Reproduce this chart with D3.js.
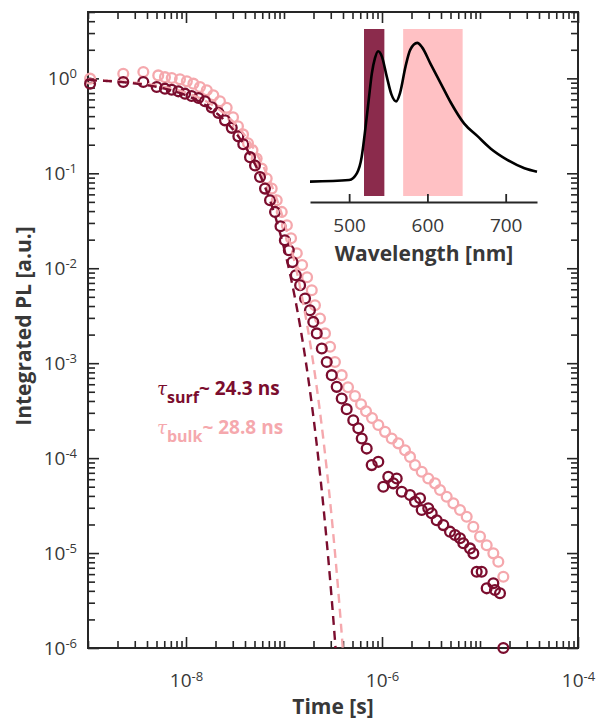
<!DOCTYPE html>
<html>
<head>
<meta charset="utf-8">
<script src="https://cdn.jsdelivr.net/npm/d3@7"></script>
<style>
  body { margin: 0; background: #fff; }
  svg { display: block; }
  text { font-family: "Open Sans", "Noto Sans", sans-serif; }
</style>
</head>
<body>
<svg id="chart" width="597" height="720"></svg>
<script>
// Time-resolved PL decays (time in ns, integrated PL normalised)
const timeBulk = [1.05,2.29,3.67,5.21,6.10,7.15,8.68,10.2,11.9,13.9,16.3,19.0,22.2,26.0,30.2,33.9,38.2,42.9,47.7,52.6,59.2,66.6,74.9,84.3,94.8,107,118,135,153,172,192,207,233,262,295,331,388,450,530,611,687,791,917,1074,1256,1467,1718,1932,2172,2542,2966,3474,3908,4571,5343,6252,7314,8547,10000,11700,13680,15380,17300];
const plBulk = [0.993,1.12,1.165,1.075,1.03,1.007,0.976,0.930,0.880,0.810,0.748,0.662,0.573,0.489,0.389,0.313,0.257,0.207,0.175,0.143,0.112,0.0879,0.069,0.052,0.0392,0.0284,0.0207,0.0144,0.0108,0.00804,0.00587,0.00408,0.00296,0.00206,0.00149,0.00103,7.48e-4,5.58e-4,4.50e-4,3.70e-4,3.12e-4,2.64e-4,2.23e-4,1.89e-4,1.61e-4,1.43e-4,1.21e-4,1.03e-4,8.44e-5,7.18e-5,6.11e-5,5.42e-5,4.61e-5,3.92e-5,3.34e-5,2.84e-5,2.41e-5,1.89e-5,1.49e-5,1.21e-5,9.93e-6,8.09e-6,5.63e-6];

const timeSurf = [1.05,2.29,3.67,5.02,6.10,7.15,8.35,9.77,11.4,13.4,15.6,18.3,21.4,25.0,29.3,34.2,38.4,45.0,50.6,56.9,64.0,72.0,81.0,92.1,102,112,122,132,146,164,184,199,216,243,273,307,345,388,436,509,573,621,698,785,917,1031,1159,1304,1413,1589,1932,2172,2443,2542,2966,3214,3614,4224,4943,5559,6252,6755,7907,8547,9250,10400,11700,13680,14220,16000,17300];
const plSurf = [0.880,0.914,0.914,0.810,0.779,0.760,0.730,0.690,0.651,0.620,0.573,0.495,0.433,0.361,0.301,0.245,0.202,0.148,0.121,0.0914,0.069,0.052,0.0392,0.0277,0.0197,0.0155,0.0116,0.00844,0.00662,0.0048,0.00361,0.00272,0.00206,0.00143,0.00103,7.48e-4,5.63e-4,4.25e-4,3.28e-4,2.51e-4,2.06e-4,1.61e-4,1.26e-4,8.44e-5,9.14e-5,4.99e-5,6.35e-5,5.42e-5,6.11e-5,4.42e-5,4.08e-5,3.47e-5,3.77e-5,2.84e-5,2.96e-5,2.62e-5,2.22e-5,1.97e-5,1.68e-5,1.55e-5,1.43e-5,1.27e-5,1.12e-5,9.93e-6,6.35e-6,6.35e-6,4.25e-6,4.80e-6,4.08e-6,3.77e-6,1e-6];

// Single-exponential fits (lifetimes in ns)
const tauSurf = 24.3;
const tauBulk = 28.8;
const fitAmplitude = [1.0, 1.0];

// Axis ticks
const xLabelExponents = [-8, -6, -4];
const yLabelExponents = [0, -1, -2, -3, -4, -5, -6];

// PL spectrum for the inset
const wavelength = [450,500,510,516,520,525,529,533,537,542,548,554,560,565,572,578,587,593,604,617,630,647,664,681,702,724,740];
const spectrum = [0.003,0.015,0.065,0.18,0.35,0.59,0.78,0.89,0.94,0.90,0.76,0.63,0.58,0.64,0.83,0.95,1.0,0.97,0.85,0.71,0.57,0.42,0.33,0.24,0.16,0.10,0.075];
const bandSurf = [519, 545];
const bandBulk = [569, 645];
const waveTicks = [500, 600, 700];

const colSurf = "#7b0d2e";
const colBulk = "#f5a8ad";
const axisCol = "#262626";
const labelCol = "#383838";

const svg = d3.select("#chart");

const L = 88, R = 578, T = 12, B = 648;
const x = d3.scaleLog().domain([1e-9, 1e-4]).range([L, R]);
const y = d3.scaleLog().domain([1e-6, 5]).range([B, T]);

// log tick values: every integer multiple of each decade
function logTicks(lo, hi) {
  const out = [];
  for (let d = lo; d < hi; d++) {
    for (let k = 1; k <= 9; k++) out.push(k * Math.pow(10, d));
  }
  out.push(Math.pow(10, hi));
  return out;
}
const xAll = logTicks(-9, -4);
const xMajor = xLabelExponents.map(e => Math.pow(10, e));
const xMinor = xAll.filter(v => !xMajor.some(m => Math.abs(m - v) / m < 1e-6));
const yAll = logTicks(-6, 0).concat([2, 3, 4, 5]);
const yMajor = yLabelExponents.map(e => Math.pow(10, e));
const yMinor = yAll.filter(v => !yMajor.some(m => Math.abs(m - v) / m < 1e-6));

const minorLen = 7, majorLen = 11;

function drawAxis(axisFn, scale, transform, vals, len, labels) {
  const g = svg.append("g")
    .attr("transform", transform)
    .attr("color", axisCol)
    .call(axisFn(scale).tickValues(vals).tickSize(-len).tickSizeOuter(0)
      .tickPadding(labels ? labels.pad : 0)
      .tickFormat(labels ? (() => "10") : () => ""));
  g.select(".domain").remove();
  g.selectAll(".tick line").attr("stroke-width", 1.6);
  if (labels) {
    g.selectAll(".tick text")
      .attr("font-size", 19)
      .attr("fill", labelCol)
      .each(function(d) {
        const e = Math.round(Math.log10(d));
        d3.select(this).append("tspan")
          .attr("dy", "-0.5em")
          .attr("font-size", 13)
          .text(e);
      });
  }
  return g;
}

// Bottom / top / left / right ticks, all pointing inward
drawAxis(d3.axisBottom, x, `translate(0,${B})`, xMinor, minorLen);
drawAxis(d3.axisBottom, x, `translate(0,${B})`, xMajor, majorLen, { pad: 26 });
drawAxis(d3.axisTop, x, `translate(0,${T})`, xMinor, minorLen);
drawAxis(d3.axisTop, x, `translate(0,${T})`, xMajor, majorLen);
drawAxis(d3.axisLeft, y, `translate(${L},0)`, yMinor, minorLen);
drawAxis(d3.axisLeft, y, `translate(${L},0)`, yMajor, majorLen, { pad: 11 });
drawAxis(d3.axisRight, y, `translate(${R},0)`, yMinor, minorLen);
drawAxis(d3.axisRight, y, `translate(${R},0)`, yMajor, majorLen);

// Plot frame
svg.append("rect")
  .attr("x", L).attr("y", T).attr("width", R - L).attr("height", B - T)
  .attr("fill", "none").attr("stroke", axisCol).attr("stroke-width", 2);

// Axis titles
svg.append("text")
  .attr("x", 333).attr("y", 714)
  .attr("text-anchor", "middle").attr("font-size", 21).attr("font-weight", "bold")
  .attr("fill", labelCol).text("Time [s]");
svg.append("text")
  .attr("transform", `translate(31,326) rotate(-90)`)
  .attr("text-anchor", "middle").attr("font-size", 21).attr("font-weight", "bold")
  .attr("fill", labelCol).text("Integrated PL [a.u.]");

// Inset: PL spectrum with the two spectral windows
const wx = d3.scaleLinear().domain([450, 740]).range([310, 537]);
const wy = d3.scaleLinear().domain([-0.1, 1.1]).range([196, 29]);
const inset = svg.append("g");
inset.append("rect")
  .attr("x", wx(bandSurf[0])).attr("width", wx(bandSurf[1]) - wx(bandSurf[0]))
  .attr("y", wy(1.1)).attr("height", wy(-0.1) - wy(1.1))
  .attr("fill", "#8b2b4c");
inset.append("rect")
  .attr("x", wx(bandBulk[0])).attr("width", wx(bandBulk[1]) - wx(bandBulk[0]))
  .attr("y", wy(1.1)).attr("height", wy(-0.1) - wy(1.1))
  .attr("fill", "#ffc1c4");
inset.append("path")
  .datum(wavelength.map((w, i) => [w, spectrum[i]]))
  .attr("fill", "none").attr("stroke", "#000").attr("stroke-width", 2.6)
  .attr("stroke-linejoin", "round")
  .attr("d", d3.line().x(d => wx(d[0])).y(d => wy(d[1])).curve(d3.curveMonotoneX));
const wAxis = inset.append("g")
  .attr("transform", "translate(0,202)")
  .attr("color", axisCol)
  .call(d3.axisBottom(wx).tickValues(waveTicks).tickSize(-8).tickSizeOuter(0).tickPadding(17));
wAxis.select(".domain").attr("stroke-width", 2);
wAxis.selectAll(".tick line").attr("stroke-width", 1.8);
wAxis.selectAll(".tick text").attr("font-size", 19).attr("fill", labelCol);
inset.append("text")
  .attr("x", 424).attr("y", 261)
  .attr("text-anchor", "middle").attr("font-size", 21).attr("font-weight", "bold")
  .attr("fill", labelCol).text("Wavelength [nm]");

// Data markers
function drawSeries(times, vals, color) {
  svg.append("g").selectAll("circle")
    .data(times.map((t, i) => [t * 1e-9, vals[i]]))
    .join("circle")
    .attr("cx", d => x(d[0])).attr("cy", d => y(d[1]))
    .attr("r", 4.9)
    .attr("fill", "none").attr("stroke", color).attr("stroke-width", 2.3);
}
drawSeries(timeBulk, plBulk, colBulk);
drawSeries(timeSurf, plSurf, colSurf);

// Exponential fits, clipped to the plot area
svg.append("clipPath").attr("id", "plotClip")
  .append("rect").attr("x", L).attr("y", T).attr("width", R - L).attr("height", B - T);
function drawFit(tau, amp, color) {
  const ts = d3.range(0, 501).map(i => Math.pow(10, -9 + i * (Math.log10(600e-9) + 9) / 500));
  svg.append("path")
    .datum(ts.map(t => [t, amp * Math.exp(-t / (tau * 1e-9))]))
    .attr("clip-path", "url(#plotClip)")
    .attr("fill", "none").attr("stroke", color).attr("stroke-width", 2.4)
    .attr("stroke-dasharray", "9,6")
    .attr("d", d3.line().x(d => x(d[0])).y(d => y(Math.max(d[1], 1e-7))));
}
drawFit(tauBulk, fitAmplitude[1], colBulk);
drawFit(tauSurf, fitAmplitude[0], colSurf);

// Lifetime annotations
function lifetimeLabel(yBase, sub, tau, color) {
  const t = svg.append("text").attr("x", 157).attr("y", yBase)
    .attr("fill", color).attr("font-size", 19).attr("font-weight", "bold");
  t.append("tspan").attr("font-family", "DejaVu Serif").attr("font-style", "italic")
    .attr("font-weight", "normal").attr("font-size", 18).text("τ");
  t.append("tspan").attr("dy", 8).attr("font-size", 16).text(sub);
  t.append("tspan").attr("dy", -8).text("~ " + tau.toFixed(1) + " ns");
}
lifetimeLabel(395, "surf", tauSurf, colSurf);
lifetimeLabel(434, "bulk", tauBulk, colBulk);
</script>
</body>
</html>
